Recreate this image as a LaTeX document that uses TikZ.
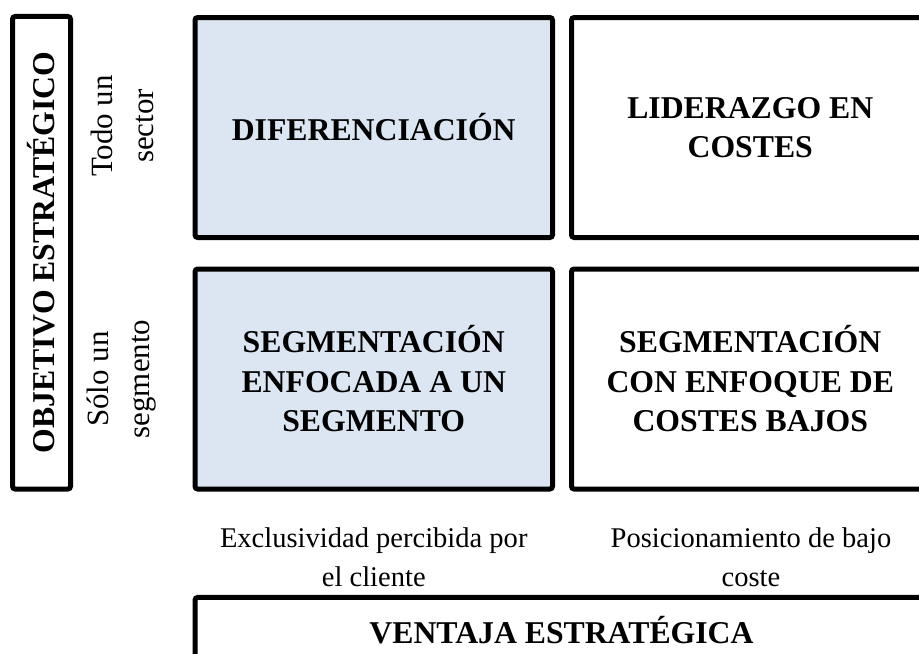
\documentclass[tikz,border=0pt]{standalone}
\usepackage{fontspec}
\setmainfont{Liberation Serif}
\usepackage{tikz}
\usetikzlibrary{positioning}
\definecolor{quadblue}{HTML}{DCE6F2}

\begin{document}
\begin{tikzpicture}[x=0.75pt,y=-0.75pt,line width=3.75pt,
				quad box/.style={draw,rounded corners=2pt,align=center,inner sep=0pt,
					minimum width=268.125pt,minimum height=165pt,
					font=\fontsize{23.8}{29.6}\selectfont\bfseries},
				axis box/.style={draw,rounded corners=2pt,align=center,inner sep=0pt,
					font=\fontsize{23.8}{29.6}\selectfont\bfseries},
				axis label/.style={align=center,inner sep=0pt,
					font=\fontsize{21.4}{29.3}\selectfont},
				side label/.style={align=center,inner sep=0pt,rotate=90,
					font=\fontsize{23.2}{30.75}\selectfont}]
				
				\useasboundingbox (0,0) rectangle (919,653);
				\clip (0,0) rectangle (919,653);
				
				\node[quad box,fill=quadblue] (dif) at (373.75,127.5) {DIFERENCIACIÓN};
				\node[quad box] (lid) at (750.25,127.5) {LIDERAZGO EN\\COSTES};
				\node[quad box,fill=quadblue] (seg) at (373.75,379) {SEGMENTACIÓN\\ENFOCADA A UN\\SEGMENTO};
				\node[quad box] (cos) at (750.25,379) {SEGMENTACIÓN\\CON ENFOQUE DE\\COSTES BAJOS};
				
				\node[axis box,rotate=90,minimum width=354.4pt,minimum height=43.5pt] (obj) at (41.5,252.75) {OBJETIVO ESTRATÉGICO};
				\node[axis box,minimum width=549.75pt,minimum height=48.4pt] (ven) at (561.5,629.75) {VENTAJA ESTRATÉGICA};
				
				\node[side label] (todo) at (122,126) {Todo un\\sector};
				\node[side label] (solo) at (122,379) {Sólo un\\segmento};
				\node[axis label] (excl) at (373.75,557) {Exclusividad percibida por\\el cliente};
				\node[axis label] (posi) at (751,557) {Posicionamiento de bajo\\coste};
				
				\end{tikzpicture}
\end{document}
